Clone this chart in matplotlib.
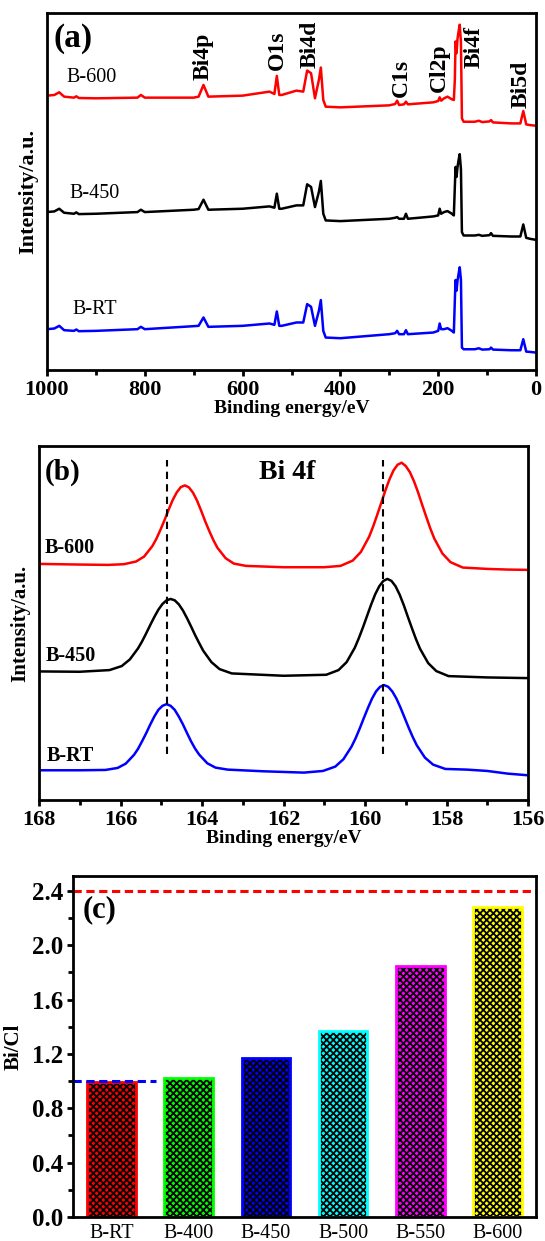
import matplotlib
matplotlib.use("Agg")
import matplotlib.pyplot as plt
from matplotlib.ticker import MultipleLocator, FormatStrFormatter

plt.rcParams["font.family"] = ["Liberation Serif", "DejaVu Serif"]
plt.rcParams["hatch.linewidth"] = 1.3

# ------------- data: (a) survey spectra -------------
survey_ev = [1000, 985, 975, 965, 945, 940, 935, 900, 815, 808, 800, 700, 690, 680, 670,
             600, 545, 535, 530, 525, 520, 490, 476, 468, 460, 452, 444, 440, 435, 430,
             400, 300, 288, 284, 280, 270, 266, 262, 210, 200, 197, 194, 188, 181, 172,
             168, 166, 164.5, 162.5, 160.5, 158, 156, 153.5, 151.5, 148, 125, 117, 110, 95, 92, 88,
             50, 32, 26, 20, 12, 0]
survey_b600 = [820, 822, 830, 817, 814, 818, 813, 812, 814, 822, 814, 814, 817, 852, 817,
               820, 832, 825, 879, 822, 822, 835, 832, 895, 887, 812, 867, 904, 807, 787,
               785, 791, 795, 805, 792, 794, 802, 794, 800, 804, 815, 805, 812, 817, 809,
               807, 867, 982, 947, 990, 1015, 1032, 980, 752, 742, 742, 745, 741, 743, 747, 740,
               737, 737, 774, 734, 732, 730]
survey_b450 = [472, 474, 482, 470, 467, 471, 466, 467, 472, 479, 472, 479, 481, 509, 479,
               482, 489, 485, 527, 482, 482, 492, 492, 555, 547, 487, 532, 565, 467, 447,
               445, 452, 455, 457, 452, 452, 467, 452, 459, 462, 482, 467, 472, 475, 467,
               462, 547, 607, 577, 607, 630, 645, 600, 412, 402, 402, 404, 401, 403, 409, 401,
               399, 399, 435, 395, 392, 389]
survey_brt = [122, 124, 132, 119, 117, 121, 116, 117, 122, 129, 122, 131, 132, 157, 129,
              132, 139, 135, 175, 132, 132, 142, 142, 197, 189, 132, 177, 209, 117, 97,
              95, 107, 110, 117, 107, 107, 119, 107, 112, 117, 139, 122, 122, 125, 117,
              112, 207, 269, 237, 267, 290, 307, 270, 67, 62, 62, 65, 61, 62, 67, 61,
              59, 59, 92, 55, 54, 52]
peak_names = ["Bi4p", "O1s", "Bi4d", "C1s", "Cl2p", "Bi4f", "Bi5d"]
peak_label_ev = [681, 528, 462, 275, 198, 127, 30]

# ------------- data: (b) Bi 4f high resolution -------------
b600_ev = [168.0, 167.0, 166.3, 165.92, 165.62, 165.42, 165.22, 165.12, 165.02, 164.92,
           164.82, 164.72, 164.62, 164.52, 164.42, 164.32, 164.22, 164.12, 164.02, 163.92,
           163.82, 163.72, 163.62, 163.42, 163.22, 162.92, 162.0, 161.0,
           160.6, 160.3, 160.1, 159.9, 159.8, 159.7, 159.6, 159.5, 159.4, 159.3, 159.2,
           159.1, 159.0, 158.9, 158.8, 158.7, 158.6, 158.5, 158.4, 158.3, 158.1, 157.9,
           157.6, 157.0, 156.5, 156.0]
b600_int = [707, 705, 704, 706, 714, 729, 760, 782, 809, 838,
            869, 898, 921, 937, 942, 936, 920, 896, 866, 834,
            805, 778, 755, 724, 708, 701, 697, 697,
            701, 717, 743, 788, 819, 854, 890, 927, 960, 987, 1004,
            1010, 1000, 982, 955, 922, 885, 849, 814, 783, 738, 712,
            696, 692, 690, 689]
b450_ev = [168.0, 167.0, 166.27, 165.97, 165.77, 165.57, 165.47, 165.37, 165.27, 165.17,
           165.07, 164.97, 164.87, 164.77, 164.67, 164.57, 164.47, 164.37, 164.27, 164.17,
           164.07, 163.97, 163.77, 163.57, 163.27, 162.0,
           160.95, 160.65, 160.45, 160.25, 160.15, 160.05, 159.95, 159.85, 159.75, 159.65,
           159.55, 159.45, 159.35, 159.25, 159.15, 159.05, 158.95, 158.85, 158.75, 158.65,
           158.45, 158.25, 157.95, 157.0, 156.0]
b450_int = [385, 384, 389, 401, 421, 454, 475, 499, 524, 548,
            570, 587, 598, 602, 598, 586, 568, 545, 520, 494,
            470, 447, 413, 392, 379, 372,
            375, 389, 413, 456, 485, 517, 551, 585, 616, 640,
            656, 662, 656, 640, 615, 584, 549, 515, 482, 453,
            410, 386, 371, 367, 365]
brt_ev = [168.0, 167.0, 166.37, 166.07, 165.87, 165.67, 165.57, 165.47, 165.37, 165.27,
          165.17, 165.07, 164.97, 164.87, 164.77, 164.67, 164.57, 164.47, 164.37, 164.27,
          164.17, 164.07, 163.87, 163.67, 163.37, 162.5, 161.5,
          161.03, 160.73, 160.53, 160.33, 160.23, 160.13, 160.03, 159.93, 159.83, 159.73,
          159.63, 159.53, 159.43, 159.33, 159.23, 159.13, 159.03, 158.93, 158.83, 158.73,
          158.53, 158.33, 158.03, 157.5, 157.0, 156.5, 156.0]
brt_int = [89, 89, 90, 96, 109, 135, 153, 176, 200, 226,
           250, 270, 282, 287, 282, 270, 250, 227, 201, 176,
           154, 136, 110, 97, 91, 86, 82,
           87, 100, 122, 160, 185, 214, 245, 275, 303, 325,
           339, 344, 339, 325, 304, 277, 247, 217, 189, 164,
           127, 106, 93, 91, 87, 79, 74]
ref_peaks_ev = [164.87, 159.55]

# ------------- data: (c) Bi/Cl ratio -------------
samples = ["B-RT", "B-400", "B-450", "B-500", "B-550", "B-600"]
bi_cl = [0.99, 1.02, 1.17, 1.37, 1.85, 2.28]
bar_colors = ["#ff0000", "#00ff00", "#0000ff", "#00ffff", "#ff00ff", "#ffff00"]
bi_cl_theory_high = 2.4
bi_cl_theory_low = 1.0

W, H = 545, 1241
fig = plt.figure(figsize=(W / 100, H / 100), dpi=100)


def px_axes(left, top, right, bottom):
    return fig.add_axes([left / W, 1 - bottom / H, (right - left) / W, (bottom - top) / H])


def style_frame(ax):
    for s in ax.spines.values():
        s.set_linewidth(2.0)
    ax.tick_params(which="major", direction="out", length=4, width=2.0)
    ax.tick_params(which="minor", direction="out", length=3.5, width=2.0)


# ---------------- (a) ----------------
ax1 = px_axes(47, 13, 536, 370)
ax1.plot(survey_ev, survey_b600, color="red", lw=1.8)
ax1.plot(survey_ev, survey_b450, color="black", lw=1.8)
ax1.plot(survey_ev, survey_brt, color="blue", lw=1.8)
ax1.set_xlim(1000, 0)
ax1.set_ylim(0, 1067)
ax1.set_yticks([])
ax1.xaxis.set_major_locator(MultipleLocator(200))
ax1.xaxis.set_minor_locator(MultipleLocator(100))
style_frame(ax1)
ax1.tick_params(axis="x", labelsize=16, pad=3)
for lab in ax1.get_xticklabels():
    lab.set_fontweight("bold")
ax1.set_xlabel("Binding energy/eV", fontsize=14, fontweight="bold", labelpad=0)
ax1.set_ylabel("Intensity/a.u.", fontsize=16, fontweight="bold", labelpad=6)
ax1.text(986, 992, "(a)", fontsize=24, fontweight="bold", va="center", ha="left")
ax1.text(961, 875, "B-600", fontsize=14.5, va="center", ha="left")
ax1.text(955, 529, "B-450", fontsize=14.5, va="center", ha="left")
ax1.text(948, 180, "B-RT", fontsize=14.5, va="center", ha="left")
label_base = [867, 897, 902, 817, 832, 902, 782]
for name, ev, yb in zip(peak_names, peak_label_ev, label_base):
    ax1.text(ev, yb, name, rotation=90, fontsize=17, fontweight="bold",
             ha="center", va="bottom")

# ---------------- (b) ----------------
ax2 = px_axes(39, 446, 528, 800)
ax2.plot(b600_ev, b600_int, color="red", lw=1.8)
ax2.plot(b450_ev, b450_int, color="black", lw=1.8)
ax2.plot(brt_ev, brt_int, color="blue", lw=1.8)
for ev in ref_peaks_ev:
    ax2.plot([ev, ev], [137, 1017], color="black", lw=1.5, ls=(0, (3.5, 2.5)))
ax2.set_xlim(168, 156)
ax2.set_ylim(0, 1060)
ax2.set_yticks([])
ax2.xaxis.set_major_locator(MultipleLocator(2))
ax2.xaxis.set_minor_locator(MultipleLocator(1))
style_frame(ax2)
ax2.tick_params(axis="x", labelsize=16, pad=3)
for lab in ax2.get_xticklabels():
    lab.set_fontweight("bold")
ax2.set_xlabel("Binding energy/eV", fontsize=14, fontweight="bold", labelpad=0)
ax2.set_ylabel("Intensity/a.u.", fontsize=15, fontweight="bold", labelpad=6)
ax2.text(167.86, 982, "(b)", fontsize=21, fontweight="bold", va="center", ha="left")
ax2.text(161.9, 982, "Bi 4f", fontsize=20, fontweight="bold", va="center", ha="center")
ax2.text(167.86, 754, "B-600", fontsize=14.5, fontweight="bold", va="center", ha="left")
ax2.text(167.83, 432, "B-450", fontsize=14.5, fontweight="bold", va="center", ha="left")
ax2.text(167.8, 132, "B-RT", fontsize=14.5, fontweight="bold", va="center", ha="left")

# ---------------- (c) ----------------
ax3 = px_axes(73, 876, 536, 1217)
xs = list(range(len(samples)))
ax3.bar(xs, bi_cl, width=0.63, color=bar_colors, edgecolor="black", hatch="xxxxx", linewidth=0)
ax3.bar(xs, bi_cl, width=0.63, fill=False, edgecolor=bar_colors, linewidth=2)
ax3.axhline(bi_cl_theory_high, color="red", lw=2.2, ls=(0, (2.7, 1.5)))
ax3.plot([-0.5, 0.57], [bi_cl_theory_low, bi_cl_theory_low], color="blue", lw=2.2,
         ls=(0, (2.7, 1.5)))
ax3.set_xlim(-0.5, 5.5)
ax3.set_ylim(0, 2.509)
ax3.set_xticks(xs)
ax3.set_xticklabels(samples)
ax3.yaxis.set_major_locator(MultipleLocator(0.4))
ax3.yaxis.set_minor_locator(MultipleLocator(0.2))
ax3.yaxis.set_major_formatter(FormatStrFormatter("%.1f"))
style_frame(ax3)
ax3.tick_params(axis="x", which="both", length=0, labelsize=14.5, pad=5)
ax3.tick_params(axis="y", labelsize=18, pad=3)
for lab in ax3.get_yticklabels():
    lab.set_fontweight("bold")
ax3.set_ylabel("Bi/Cl", fontsize=15, fontweight="bold", labelpad=6)
ax3.text(-0.38, 2.26, "(c)", fontsize=22, fontweight="bold", va="center", ha="left")

fig.savefig("out.png", dpi=100)
